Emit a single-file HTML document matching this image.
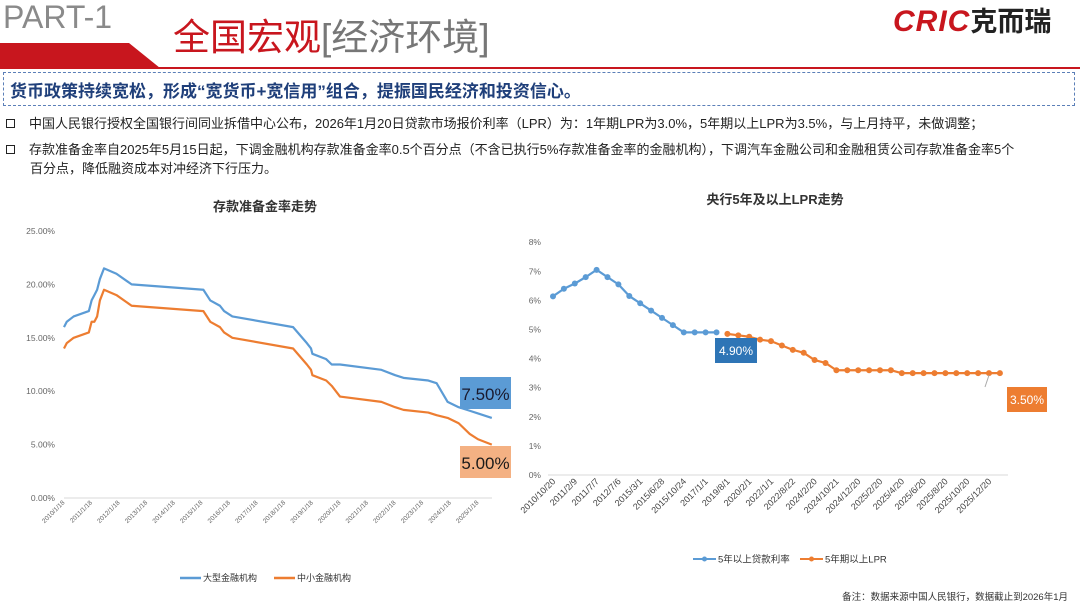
<!DOCTYPE html>
<html><head><meta charset="utf-8"><style>
body{margin:0;background:#fff;width:1080px;height:603px;overflow:hidden;position:relative;font-family:"Liberation Sans","Noto Sans CJK SC",sans-serif}
.abs{position:absolute;white-space:nowrap}
</style></head><body>
<div class="abs" style="left:3px;top:-2px;font-size:32px;line-height:38px;color:#8a8a8a;">PART-1</div>
<svg class="abs" style="left:0;top:0" width="1080" height="75">
<polygon points="0,43 129,43 160,68 0,68" fill="#c8161e"/>
<rect x="0" y="67" width="1080" height="2" fill="#c8161e"/>
</svg>
<div class="abs" style="left:173px;top:15px;font-size:37px;line-height:46px;"><span style="color:#c8161e">全国宏观</span><span style="color:#777">[经济环境]</span></div>
<div class="abs" style="left:893px;top:6px;line-height:32px;"><span style="color:#c8161e;font-weight:bold;font-style:italic;font-size:30px;letter-spacing:1px">CRIC</span><span style="color:#222;font-size:27px;font-weight:bold">克而瑞</span></div>
<div class="abs" style="left:3px;top:72px;width:1070px;height:32px;border:1.5px dashed #5b7fb8;"></div>
<div class="abs" style="left:10px;top:77px;font-size:17px;font-weight:bold;color:#1f3f7a;">货币政策持续宽松，形成“宽货币+宽信用”组合，提振国民经济和投资信心。</div>
<div class="abs" style="left:6px;top:113px;font-size:13px;color:#222;"><span style="display:inline-block;width:7px;height:7px;border:1.5px solid #222;margin-right:14px"></span>中国人民银行授权全国银行间同业拆借中心公布，2026年1月20日贷款市场报价利率（LPR）为：1年期LPR为3.0%，5年期以上LPR为3.5%，与上月持平，未做调整；</div>
<div class="abs" style="left:6px;top:140px;font-size:13px;color:#222;line-height:19px;"><span style="display:inline-block;width:7px;height:7px;border:1.5px solid #222;margin-right:14px"></span>存款准备金率自2025年5月15日起，下调金融机构存款准备金率0.5个百分点（不含已执行5%存款准备金率的金融机构），下调汽车金融公司和金融租赁公司存款准备金率5个<br><span style="margin-left:24px">百分点，降低融资成本对冲经济下行压力。</span></div>
<div class="abs" style="right:12px;top:589px;font-size:9.5px;color:#333;">备注：数据来源中国人民银行，数据截止到2026年1月</div>

<svg id="c" class="abs" style="left:0;top:0" width="1080" height="603" font-family="Liberation Sans, Noto Sans CJK SC, sans-serif"></svg>
<script>
// Left chart data (decimal year, %)
const rrrYears=[2010.0,2010.1,2010.35,2010.9,2011.0,2011.1,2011.2,2011.3,2011.45,2011.9,2012.45,2015.05,2015.3,2015.65,2015.8,2016.1,2018.3,2018.8,2018.95,2019.0,2019.5,2019.7,2020.0,2021.5,2022.0,2022.3,2023.2,2023.5,2023.9,2024.3,2024.7,2025.0,2025.5];
const rrrLarge=[16,16.5,17,17.5,18.5,19,19.5,20.5,21.5,21,20,19.5,18.5,18,17.5,17,16,14.5,14,13.5,13,12.5,12.5,12,11.5,11.25,11,10.75,9,8.5,8.17,7.92,7.5];
const rrrSmall=[14,14.5,15,15.5,16.5,16.5,17,18.5,19.5,19,18,17.5,16.5,16,15.5,15,14,12.5,12,11.5,11,10.5,9.5,9,8.5,8.25,8,7.75,7.5,7,6,5.5,5];
const rrrTicks=["0.00%","5.00%","10.00%","15.00%","20.00%","25.00%"];
const rrrXLabels=["2010/1/18","2011/1/18","2012/1/18","2013/1/18","2014/1/18","2015/1/18","2016/1/18","2017/1/18","2018/1/18","2019/1/18","2020/1/18","2021/1/18","2022/1/18","2023/1/18","2024/1/18","2025/1/18"];
// Right chart data
const lprCats=["2010/10/20","","2011/2/9","","2011/7/7","","2012/7/6","","2015/3/1","","2015/6/28","","2015/10/24","","2017/1/1","","2019/8/1","","2020/2/1","","2022/1/1","","2022/8/22","","2024/2/20","","2024/10/21","","2024/12/20","","2025/2/20","","2025/4/20","","2025/6/20","","2025/8/20","","2025/10/20","","2025/12/20",""];
const lprOld=[6.14,6.40,6.58,6.80,7.05,6.80,6.55,6.15,5.90,5.65,5.40,5.15,4.90,4.90,4.90,4.90];
const lprNew=[4.85,4.80,4.75,4.65,4.60,4.45,4.30,4.20,3.95,3.85,3.60,3.60,3.60,3.60,3.60,3.60,3.50,3.50,3.50,3.50,3.50,3.50,3.50,3.50,3.50,3.50];
const lprTicks=["0%","1%","2%","3%","4%","5%","6%","7%","8%"];

const svg=document.getElementById('c');const NS='http://www.w3.org/2000/svg';
function mk(t,a,p){const e=document.createElementNS(NS,t);for(const k in a)e.setAttribute(k,a[k]);(p||svg).appendChild(e);return e;}
const BLUE='#5b9bd5',ORANGE='#ed7d31';
// left
const lx=y=>64+(y-2010)*27.6, ly=v=>498-v*10.68;
let t=mk('text',{x:265,y:211,'text-anchor':'middle','font-size':13,'font-weight':'bold',fill:'#333'});t.textContent='存款准备金率走势';


let ax=mk('line',{x1:64,x2:492,y1:ly(0),y2:ly(0),stroke:'#d9d9d9'});


rrrTicks.forEach((s,i)=>{const e=mk('text',{x:55,y:ly(i*5)+3,'text-anchor':'end','font-size':8.5,fill:'#666'});e.textContent=s;

});
rrrXLabels.forEach((s,i)=>{const x=lx(2010+i)+1,y=503;const e=mk('text',{x:x,y:y,'text-anchor':'end','font-size':6.5,fill:'#666',transform:`rotate(-45 ${x} ${y})`});e.textContent=s;

});
function poly(xs,ys,fx,fy,col,name){const p=mk('polyline',{points:xs.map((x,i)=>fx(x)+','+fy(ys[i])).join(' '),fill:'none',stroke:col,'stroke-width':2.2,'stroke-linejoin':'round'});

return p;}
poly(rrrYears,rrrLarge,lx,ly,BLUE,'large-bank-line');
poly(rrrYears,rrrSmall,lx,ly,ORANGE,'small-bank-line');
let b=mk('rect',{x:460,y:377,width:51,height:32,fill:'#5b9bd5'});


t=mk('text',{x:485.5,y:400,'text-anchor':'middle','font-size':17,fill:'#1a1a2e'});t.textContent=(rrrLarge[rrrLarge.length-1]).toFixed(2)+'%';
b=mk('rect',{x:460,y:446,width:51,height:32,fill:'#f4b183'});


t=mk('text',{x:485.5,y:469,'text-anchor':'middle','font-size':17,fill:'#1a1a1a'});t.textContent=(rrrSmall[rrrSmall.length-1]).toFixed(2)+'%';
// left legend
mk('line',{x1:180,x2:201,y1:578,y2:578,stroke:BLUE,'stroke-width':2.5});
t=mk('text',{x:203,y:581,'font-size':9,fill:'#333'});t.textContent='大型金融机构';


mk('line',{x1:274,x2:295,y1:578,y2:578,stroke:ORANGE,'stroke-width':2.5});
t=mk('text',{x:297,y:581,'font-size':9,fill:'#333'});t.textContent='中小金融机构';



// right
const rx=i=>553+i*10.9, ry=v=>475-v*29.1;
t=mk('text',{x:775,y:204,'text-anchor':'middle','font-size':13,'font-weight':'bold',fill:'#333'});t.textContent='央行5年及以上LPR走势';


ax=mk('line',{x1:548,x2:1008,y1:ry(0),y2:ry(0),stroke:'#d9d9d9'});


lprTicks.forEach((s,i)=>{const e=mk('text',{x:541,y:ry(i)+3,'text-anchor':'end','font-size':8.5,fill:'#666'});e.textContent=s;

});
lprCats.forEach((s,i)=>{if(!s)return;const x=rx(i)+3,y=482;const e=mk('text',{x:x,y:y,'text-anchor':'end','font-size':9,fill:'#444',transform:`rotate(-45 ${x} ${y})`});e.textContent=s;

});
const oi=lprOld.map((v,i)=>i), ni=lprNew.map((v,i)=>i+lprOld.length);
poly(oi,lprOld,rx,ry,BLUE,'old-rate-line');
poly(ni,lprNew,rx,ry,ORANGE,'lpr-line');
lprOld.forEach((v,i)=>{const c=mk('circle',{cx:rx(i),cy:ry(v),r:3,fill:BLUE});

});
lprNew.forEach((v,i)=>{const c=mk('circle',{cx:rx(i+lprOld.length),cy:ry(v),r:3,fill:ORANGE});

});
b=mk('rect',{x:715,y:338,width:42,height:25,fill:'#2e75b6'});


t=mk('text',{x:736,y:355,'text-anchor':'middle','font-size':12,fill:'#fff'});t.textContent=lprOld[lprOld.length-1].toFixed(2)+'%';
mk('line',{x1:rx(40),y1:ry(3.5)+2,x2:rx(40)-4,y2:387,stroke:'#aaa'});
b=mk('rect',{x:1007,y:387,width:40,height:25,fill:'#ed7d31'});


t=mk('text',{x:1027,y:404,'text-anchor':'middle','font-size':12,fill:'#fff'});t.textContent=lprNew[lprNew.length-1].toFixed(2)+'%';
// right legend
mk('line',{x1:693,x2:716,y1:559,y2:559,stroke:BLUE,'stroke-width':2});mk('circle',{cx:704.5,cy:559,r:2.5,fill:BLUE});
t=mk('text',{x:718,y:562.5,'font-size':9.5,fill:'#333'});t.textContent='5年以上贷款利率';


mk('line',{x1:800,x2:823,y1:559,y2:559,stroke:ORANGE,'stroke-width':2});mk('circle',{cx:811.5,cy:559,r:2.5,fill:ORANGE});
t=mk('text',{x:825,y:562.5,'font-size':9.5,fill:'#333'});t.textContent='5年期以上LPR';


</script>
</body></html>
